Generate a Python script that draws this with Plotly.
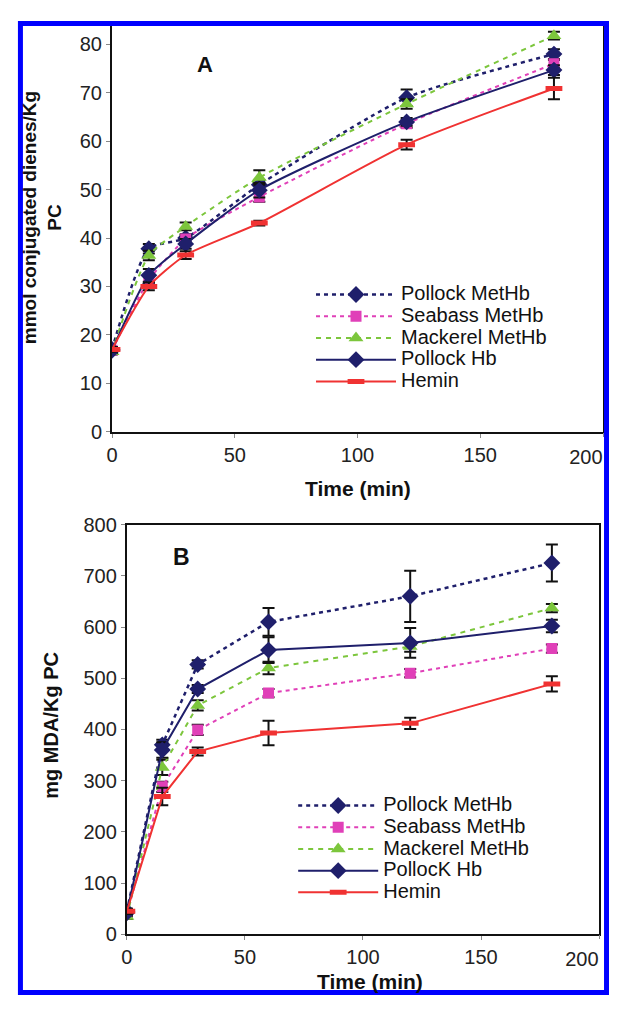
import plotly.graph_objects as go

# ---------------- data ----------------
time_min = [0, 15, 30, 60, 120, 180]
series_names_a = ["Pollock MetHb", "Seabass MetHb", "Mackerel MetHb", "Pollock Hb", "Hemin"]
series_names_b = ["Pollock MetHb", "Seabass MetHb", "Mackerel MetHb", "PollocK Hb", "Hemin"]

# Panel A: mmol conjugated dienes / Kg PC
a_pollock_methb = [17.0, 37.8, 40.0, 51.0, 69.0, 78.0]
a_seabass_methb = [16.8, 31.3, 39.8, 48.5, 63.6, 76.0]
a_mackerel_methb = [16.5, 36.4, 42.4, 52.5, 67.7, 81.8]
a_pollock_hb = [16.8, 32.3, 38.8, 49.9, 64.0, 74.7]
a_hemin = [17.0, 30.0, 36.5, 43.1, 59.3, 70.9]

a_err_pollock_methb = [0.5, 1.0, 0.8, 1.0, 1.7, 1.0]
a_err_seabass_methb = [0.5, 0.8, 0.8, 1.0, 0.8, 0.8]
a_err_mackerel_methb = [0.5, 1.0, 0.8, 1.5, 1.0, 0.8]
a_err_pollock_hb = [0.5, 1.3, 1.0, 1.5, 0.8, 1.0]
a_err_hemin = [0.5, 0.8, 0.8, 0.5, 1.0, 2.2]

# Panel B: mg MDA / Kg PC
b_pollock_methb = [45, 370, 527, 610, 660, 725]
b_seabass_methb = [40, 288, 399, 471, 510, 558]
b_mackerel_methb = [35, 326, 447, 520, 562, 637]
b_pollock_hb = [42, 360, 479, 555, 569, 602]
b_hemin = [45, 269, 357, 393, 412, 489]

b_err_pollock_methb = [5, 10, 8, 27, 50, 36]
b_err_seabass_methb = [5, 10, 10, 8, 8, 8]
b_err_mackerel_methb = [5, 15, 10, 12, 10, 8]
b_err_pollock_hb = [5, 15, 8, 25, 29, 12]
b_err_hemin = [5, 17, 8, 24, 11, 15]

x_ticks_inner = [0, 50, 100, 150]
x_tick_last = [200]
a_y_ticks = [0, 10, 20, 30, 40, 50, 60, 70, 80]
b_y_ticks = [0, 100, 200, 300, 400, 500, 600, 700, 800]

# ---------------- style ----------------
WIN_W, WIN_H = 617, 1014
BODY = 8  # default page margin around the figure
W, H = WIN_W - 2 * BODY, WIN_H - 2 * BODY
FONT = "Liberation Sans, Arial, sans-serif"
NAVY = "#1f1f6b"
PINK = "#e040b8"
GREEN = "#7cc63c"
RED = "#f03232"
LEG_TEXT_PX = 20

styles = [
    dict(color=NAVY, dash="4px,4px", width=2.5, symbol="diamond", msize=13),
    dict(color=PINK, dash="4px,4px", width=2, symbol="square", msize=11),
    dict(color=GREEN, dash="5px,5px", width=2, symbol="triangle-up", msize=13),
    dict(color=NAVY, dash="solid", width=2, symbol="diamond", msize=13),
    dict(color=RED, dash="solid", width=2, symbol="line-ew", msize=12),
]

a_vals = [a_pollock_methb, a_seabass_methb, a_mackerel_methb, a_pollock_hb, a_hemin]
a_errs = [a_err_pollock_methb, a_err_seabass_methb, a_err_mackerel_methb, a_err_pollock_hb, a_err_hemin]
b_vals = [b_pollock_methb, b_seabass_methb, b_mackerel_methb, b_pollock_hb, b_hemin]
b_errs = [b_err_pollock_methb, b_err_seabass_methb, b_err_mackerel_methb, b_err_pollock_hb, b_err_hemin]


# positions below are given in window pixels and converted to paper fractions
def px_x(p):
    return (p - BODY) / W


def px_y(p):
    return 1 - (p - BODY) / H


fig = go.Figure()


def add_series(name, x, y, err, st, xa, ya, legend, shape):
    marker = dict(symbol=st["symbol"], size=st["msize"], color=st["color"])
    if st["symbol"] == "line-ew":
        marker["line"] = dict(color=st["color"], width=5)
    else:
        marker["line"] = dict(color=st["color"], width=0)
    fig.add_trace(go.Scatter(
        x=x, y=y, name=f'<span style="font-size:{LEG_TEXT_PX}px">{name}</span>',
        mode="lines+markers",
        xaxis=xa, yaxis=ya, legend=legend,
        line=dict(color=st["color"], dash=st["dash"], width=st["width"], shape=shape, smoothing=0.6),
        marker=marker,
        error_y=dict(type="data", array=err, visible=True, color="#111111", thickness=2, width=6),
    ))


for name, vals, err, st in zip(series_names_a, a_vals, a_errs, styles):
    add_series(name, time_min, vals, err, st, "x", "y", "legend", "spline")
for name, vals, err, st in zip(series_names_b, b_vals, b_errs, styles):
    add_series(name, time_min, vals, err, st, "x2", "y2", "legend2", "linear")

tickfont = dict(family=FONT, size=20, color="#222222")
axis_common = dict(
    showgrid=False, zeroline=False, showline=True, linecolor="#111111", linewidth=2,
    ticks="outside", ticklen=4, tickcolor="#888888", tickwidth=1,
    tickfont=tickfont, mirror=True,
)
# extra axis carrying only the last x label, right-aligned so it stays inside the page
last_label_axis = dict(
    range=[0, 200], tickvals=x_tick_last, ticktext=[str(v) for v in x_tick_last],
    showgrid=False, zeroline=False, showline=False,
    ticks="outside", ticklen=4, tickcolor="#888888", tickwidth=1,
    tickfont=tickfont, side="bottom",
    ticklabelposition="outside left", ticklabeloverflow="allow", ticklabelstandoff=7,
)

# Panel geometry (window pixels)
a_left, a_right, a_top, a_bottom = 107, 603, 15, 430
b_left, b_right, b_top, b_bottom = 122, 599, 525, 944
a_ymax = 80 * (a_bottom - a_top) / (a_bottom - 34)

legend_common = dict(xanchor="left", yanchor="top", bgcolor="rgba(0,0,0,0)", itemwidth=80,
                     font=dict(family=FONT, size=14.4, color="#111111"), tracegroupgap=0)

fig.update_layout(
    width=W, height=H,
    margin=dict(l=0, r=0, t=0, b=0),
    paper_bgcolor="white", plot_bgcolor="white",
    font=dict(family=FONT, color="#111111"),
    xaxis=dict(domain=[px_x(a_left), px_x(a_right)], range=[0, 200], tickvals=x_ticks_inner,
               anchor="y", **axis_common),
    yaxis=dict(domain=[px_y(a_bottom), px_y(a_top)], range=[0, a_ymax], tickvals=a_y_ticks,
               anchor="x", **axis_common),
    xaxis2=dict(domain=[px_x(b_left), px_x(b_right)], range=[0, 200], tickvals=x_ticks_inner,
                anchor="y2", **axis_common),
    yaxis2=dict(domain=[px_y(b_bottom), px_y(b_top)], range=[0, 800], tickvals=b_y_ticks,
                anchor="x2", **axis_common),
    xaxis3=dict(domain=[px_x(a_left), px_x(a_right)], anchor="y", overlaying="x", **last_label_axis),
    xaxis4=dict(domain=[px_x(b_left), px_x(b_right)], anchor="y2", overlaying="x2", **last_label_axis),
    showlegend=True,
    legend=dict(x=px_x(308), y=px_y(273.5), **legend_common),
    legend2=dict(x=px_x(290), y=px_y(796), **legend_common),
)

# invisible helpers so the label-only axes are laid out
fig.add_trace(go.Scatter(x=[200], y=[0], xaxis="x3", yaxis="y", mode="markers",
                         marker=dict(opacity=0), showlegend=False, hoverinfo="skip"))
fig.add_trace(go.Scatter(x=[200], y=[0], xaxis="x4", yaxis="y2", mode="markers",
                         marker=dict(opacity=0), showlegend=False, hoverinfo="skip"))

annots = [
    dict(text="<b>A</b>", x=px_x(201), y=px_y(55), size=22),
    dict(text="<b>B</b>", x=px_x(177), y=px_y(558), size=23),
    dict(text="<b>Time (min)</b>", x=px_x(355), y=px_y(488), size=21),
    dict(text="<b>Time (min)</b>", x=px_x(368), y=px_y(992), size=21),
]
for a in annots:
    fig.add_annotation(text=a["text"], x=a["x"], y=a["y"], xref="paper", yref="paper",
                       showarrow=False, xanchor="center", yanchor="middle",
                       font=dict(family=FONT, size=a["size"], color="#111111"))

fig.add_annotation(text="<b>mmol conjugated dienes/Kg<br>PC</b>", x=px_x(36), y=px_y(211),
                   xref="paper", yref="paper", showarrow=False, textangle=-90,
                   xanchor="center", yanchor="middle",
                   font=dict(family=FONT, size=19, color="#111111"))
fig.add_annotation(text="<b>mg MDA/Kg PC</b>", x=px_x(45), y=px_y(730),
                   xref="paper", yref="paper", showarrow=False, textangle=-90,
                   xanchor="center", yanchor="middle",
                   font=dict(family=FONT, size=20, color="#111111"))

# blue frame around the figure
fig.add_shape(type="rect", xref="paper", yref="paper",
              x0=px_x(14.5), x1=px_x(606.5), y0=px_y(1003.5), y1=px_y(12.5),
              line=dict(color="#0000ff", width=5), fillcolor="rgba(0,0,0,0)", layer="above")

fig.write_html("out.html", config={"displayModeBar": False})
